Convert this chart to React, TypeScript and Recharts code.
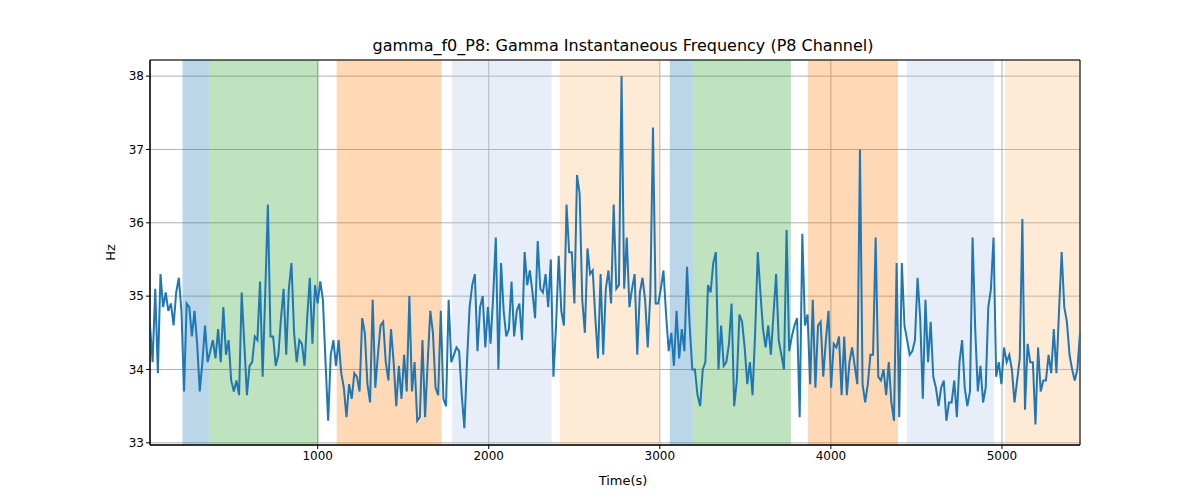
import { LineChart, Line, XAxis, YAxis, CartesianGrid, ReferenceArea } from 'recharts'

const hz = [
  34.6, 34.1, 35.1, 33.95, 35.3, 34.85, 35.05, 34.8, 34.9, 34.6, 35.05, 35.25, 34.8, 33.7, 34.9, 34.85,
  34.45, 34.8, 34.35, 33.7, 34.1, 34.6, 34.1, 34.25, 34.4, 34.15, 34.55, 34.1, 34.85, 34.2, 34.4, 33.85,
  33.7, 33.85, 33.65, 35.05, 34.35, 33.65, 34.05, 34.1, 34.45, 34.4, 35.2, 33.9, 35.05, 36.25, 34.45, 34.45,
  34.05, 34.2, 34.7, 35.1, 34.2, 35.1, 35.45, 34.5, 34.1, 34.4, 34.35, 34.05, 34.7, 35.25, 34.35, 35.15,
  34.9, 35.2, 34.95, 34.1, 33.3, 34.2, 34.4, 34.05, 34.4, 33.95, 33.75, 33.35, 33.8, 33.6, 33.95, 33.9,
  33.7, 34.7, 34.5, 33.8, 33.55, 34.95, 33.75, 34.2, 34.6, 34.65, 34.1,
  33.85, 34.55, 34.1, 33.5, 34.05, 33.6, 34.2, 33.7, 35.0, 33.7, 34.1, 33.3, 33.35, 34.4, 33.35, 34.1,
  34.8, 34.5, 33.75, 33.65, 34.8, 33.6, 33.5, 34.95, 34.1, 34.2, 34.3, 34.25, 33.65, 33.2, 34.1, 34.85,
  35.15, 35.3, 34.25, 34.85, 35.0, 34.3, 34.85, 34.35, 35.0, 35.8, 34.0, 35.45, 34.8, 34.45, 34.55, 35.2,
  34.45, 34.8, 34.9, 34.4, 35.6, 35.15, 35.35, 35.05, 34.7, 35.75, 35.1, 35.05, 35.3, 34.85, 35.5, 33.9,
  34.6, 35.55, 34.8, 34.6, 36.25, 35.6, 35.6, 34.9, 36.65, 36.4, 34.95, 34.5, 35.65, 35.3, 35.35, 34.7,
  34.15, 35.3, 34.2, 35.1, 35.35, 34.9, 36.25,
  35.1, 35.15, 38.0, 35.1, 35.8, 34.85, 35.1, 35.3, 34.2, 35.05, 35.25, 34.95, 34.3, 35.05, 37.3, 34.9,
  34.9, 35.1, 35.35, 34.75, 34.25, 34.5, 34.05, 34.8, 34.15, 34.55, 34.25, 35.4, 34.6, 34.0, 34.0, 33.65,
  33.5, 34.0, 34.1, 35.15, 35.05, 35.45, 35.6, 34.0, 34.6, 34.05, 34.1, 34.35, 34.9, 33.5, 33.85, 34.75,
  34.65, 34.3, 33.8, 34.1, 33.65, 34.5, 35.6, 35.05, 34.55, 34.3, 34.6, 34.2, 34.75, 35.3, 34.4, 34.2,
  34.0, 35.9, 34.25, 34.45, 34.6, 34.7, 33.35, 35.85, 34.6, 34.75, 33.8, 34.95, 33.75, 34.6, 34.65, 33.9,
  34.4, 34.8, 33.75, 34.35, 34.3, 34.45, 33.65,
  34.45, 33.65, 34.1, 34.3, 34.05, 33.8, 37.0, 33.8, 33.55, 33.8, 34.2, 34.2, 35.8, 33.9, 33.85, 34.0,
  33.65, 34.1, 33.55, 33.3, 35.45, 33.35, 35.45, 34.6, 34.4, 34.2, 34.25, 34.4, 35.25, 34.7, 33.6, 34.95,
  34.1, 34.65, 33.9, 33.75, 33.5, 33.75, 33.85, 33.3, 33.55, 33.55, 33.85, 33.35, 34.1, 34.4, 33.75, 33.5,
  33.7, 35.8, 34.55, 33.7, 34.05, 33.55, 33.75, 34.85, 35.1, 35.8, 33.9, 34.1, 33.8, 34.3, 34.1, 34.2,
  34.0, 33.55, 33.85, 34.15, 36.05, 33.45, 34.35, 34.1, 34.1, 33.25, 34.3, 33.7, 33.85, 33.85, 34.2, 33.95,
  34.55, 33.95, 34.8, 35.6, 34.85, 34.65, 34.2, 34.0, 33.85, 34.0, 34.5,
]

const tStart = 20
const tEnd = 5456
const data = hz.map((v, i) => ({ t: tStart + (i * (tEnd - tStart)) / (hz.length - 1), v }))

const xTicks = [1000, 2000, 3000, 4000, 5000]
const yTicks = [33, 34, 35, 36, 37, 38]

const bands = [
  { x1: 210, x2: 368, color: '#1f77b4' },
  { x1: 368, x2: 1006, color: '#2ca02c' },
  { x1: 1111, x2: 1725, color: '#ff7f0e' },
  { x1: 1784, x2: 2368, color: '#aec7e8' },
  { x1: 2415, x2: 3000, color: '#ffbb78' },
  { x1: 3058, x2: 3193, color: '#1f77b4' },
  { x1: 3193, x2: 3766, color: '#2ca02c' },
  { x1: 3865, x2: 4392, color: '#ff7f0e' },
  { x1: 4444, x2: 4953, color: '#aec7e8' },
  { x1: 5018, x2: 5456, color: '#ffbb78' },
]

const font = 'DejaVu Sans, sans-serif'

export default function App() {
  return (
    <div style={{ position: 'relative', width: 1192, height: 492, fontFamily: font }}>
      <div style={{ position: 'absolute', top: 28, left: 0, width: 1230, textAlign: 'center', fontSize: 16 }}>
        gamma_f0_P8: Gamma Instantaneous Frequency (P8 Channel)
      </div>
      <div style={{ position: 'absolute', top: 465, left: 0, width: 1230, textAlign: 'center', fontSize: 13 }}>
        Time(s)
      </div>
      <div
        style={{
          position: 'absolute', left: 94, top: 237, fontSize: 13,
          transform: 'rotate(-90deg)', transformOrigin: 'center',
        }}
      >
        Hz
      </div>
      <LineChart width={1192} height={492} data={data} margin={{ top: 52, right: 120, bottom: 25, left: 0 }}>
        {bands.map((b, i) => (
          <ReferenceArea key={i} x1={b.x1} x2={b.x2} fill={b.color} fillOpacity={0.3} stroke="none" ifOverflow="hidden" />
        ))}
        <CartesianGrid stroke="#b0b0b0" strokeWidth={1} />
        <XAxis
          dataKey="t" type="number" domain={[tStart, tEnd]} ticks={xTicks} height={30}
          tick={{ fill: '#000', fontSize: 12, fontFamily: font }} tickLine={{ stroke: '#000' }}
          axisLine={{ stroke: '#000' }} tickSize={4}
        />
        <YAxis
          type="number" domain={[32.97, 38.22]} ticks={yTicks} width={142}
          tick={{ fill: '#000', fontSize: 12, fontFamily: font }} tickLine={{ stroke: '#000' }}
          axisLine={{ stroke: '#000' }} tickSize={4}
        />
        <ReferenceArea x1={tStart} x2={tEnd} y1={32.97} y2={38.22} fill="none" stroke="#000" strokeWidth={1} />
        <Line dataKey="v" stroke="#1f77b4" strokeWidth={2} dot={false} isAnimationActive={false} />
      </LineChart>
    </div>
  )
}
